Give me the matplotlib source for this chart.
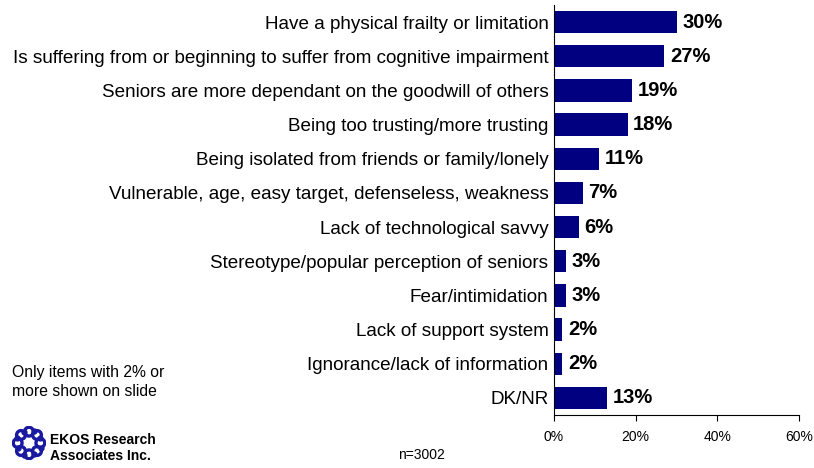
import matplotlib.pyplot as plt
import numpy as np

plt.rcParams['font.family'] = ['Liberation Sans', 'DejaVu Sans']

categories = [
    "Have a physical frailty or limitation",
    "Is suffering from or beginning to suffer from cognitive impairment",
    "Seniors are more dependant on the goodwill of others",
    "Being too trusting/more trusting",
    "Being isolated from friends or family/lonely",
    "Vulnerable, age, easy target, defenseless, weakness",
    "Lack of technological savvy",
    "Stereotype/popular perception of seniors",
    "Fear/intimidation",
    "Lack of support system",
    "Ignorance/lack of information",
    "DK/NR",
]
values = [30, 27, 19, 18, 11, 7, 6, 3, 3, 2, 2, 13]
xticks = [0, 20, 40, 60]

fig = plt.figure(figsize=(8.14, 4.68), dpi=100)
ax = fig.add_axes([0.6806, 0.1132, 0.3010, 0.8761])

y = np.arange(len(categories))
ax.barh(y, values, height=0.65, color="#000080")
for yi, v in zip(y, values):
    ax.text(v + 1.4, yi, f"{v}%", va="center", ha="left",
            fontsize=14.5, fontweight="bold")

ax.set_ylim(len(categories) - 0.5, -0.5)
ax.set_xlim(0, 60)
ax.set_yticks(y)
ax.set_yticklabels(categories, fontsize=13.55)
ax.tick_params(axis="y", length=0, pad=4)
ax.set_xticks(xticks)
ax.set_xticklabels([f"{t}%" for t in xticks], fontsize=10)
ax.tick_params(axis="x", direction="out", length=4, pad=7)
ax.spines["top"].set_visible(False)
ax.spines["right"].set_visible(False)

fig.text(0.015, 0.184, "Only items with 2% or\nmore shown on slide",
         fontsize=11.3, va="center", ha="left", linespacing=1.35)
fig.text(0.489, 0.028, "n=3002", fontsize=10, ha="left", va="center")
fig.text(0.062, 0.043, "EKOS Research\nAssociates Inc.", fontsize=10,
         fontweight="bold", va="center", ha="left", linespacing=1.15)

# ring logo: small curls around a circle
logo = fig.add_axes([12 / 814, 8 / 468, 34 / 814, 34 / 468])
logo.set_xlim(-1.5, 1.5)
logo.set_ylim(-1.5, 1.5)
logo.axis("off")
ang = np.linspace(0, 2 * np.pi, 9)[:-1]
logo.scatter(np.cos(ang), np.sin(ang), s=40, facecolors="none",
             edgecolors="#1a1aa0", linewidths=2.4)
logo.scatter(1.1 * np.cos(ang + 0.4), 1.1 * np.sin(ang + 0.4), s=12,
             color="#1a1aa0")

fig.savefig("out.png", dpi=100)
